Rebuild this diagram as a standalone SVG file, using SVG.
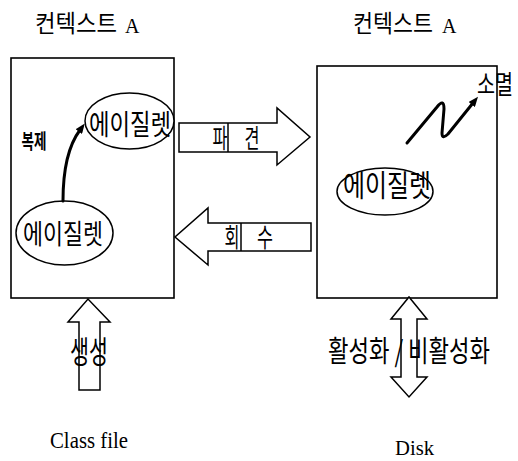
<svg xmlns="http://www.w3.org/2000/svg" width="518" height="461" viewBox="0 0 518 461">
<style>
  .box{fill:#fff;stroke:#000;stroke-width:1.6}
  .ell{fill:#fff;stroke:#000;stroke-width:1.5}
  .blk{fill:#fff;stroke:#000;stroke-width:1.5;stroke-linejoin:miter}
  .ln{fill:none;stroke:#000;stroke-width:1.5}
  .thick{fill:none;stroke:#000;stroke-width:3;stroke-linecap:round;stroke-linejoin:round}
  .k{font-family:"Noto Sans CJK KR","Noto Sans",sans-serif;fill:#000}
  .s{font-family:"Liberation Serif","Times New Roman",serif;fill:#000}
</style>
<defs>
  <marker id="ah" viewBox="0 0 10 8" refX="2" refY="4" markerWidth="10" markerHeight="8" markerUnits="userSpaceOnUse" orient="auto">
    <path d="M0,0 L10,4 L0,8 z" fill="#000"/>
  </marker>
</defs>
<rect width="518" height="461" fill="#fff"/>

<g id="context-left">
  <text class="k" x="35" y="32" font-size="24" textLength="82" lengthAdjust="spacingAndGlyphs">컨텍스트</text>
  <text class="s" x="125" y="33" font-size="20">A</text>
  <rect class="box" x="11" y="58" width="163" height="240"/>
</g>

<g id="context-right">
  <text class="k" x="353" y="32" font-size="24" textLength="80" lengthAdjust="spacingAndGlyphs">컨텍스트</text>
  <text class="s" x="442" y="33" font-size="20">A</text>
  <rect class="box" x="317" y="66" width="180" height="232"/>
</g>

<g id="aglet-left-top">
  <ellipse class="ell" cx="129.5" cy="121" rx="44.5" ry="28"/>
  <text class="k" x="130" y="135" font-size="28" text-anchor="middle" textLength="82" lengthAdjust="spacingAndGlyphs">에이질렛</text>
</g>

<g id="aglet-left-bottom">
  <ellipse class="ell" cx="64.5" cy="233" rx="48.5" ry="32"/>
  <text class="k" x="63" y="244" font-size="27" text-anchor="middle" textLength="80" lengthAdjust="spacingAndGlyphs">에이질렛</text>
</g>

<g id="aglet-right">
  <ellipse class="ell" cx="385" cy="191.5" rx="48" ry="23.5"/>
  <text class="k" x="387" y="196" font-size="30" text-anchor="middle" textLength="88" lengthAdjust="spacingAndGlyphs">에이질렛</text>
</g>

<g id="label-clone">
  <text class="k" x="34" y="149" font-size="20" font-weight="bold" text-anchor="middle" textLength="25" lengthAdjust="spacingAndGlyphs">복제</text>
</g>

<g id="label-extinct">
  <text class="k" x="477" y="94" font-size="26" textLength="36" lengthAdjust="spacingAndGlyphs">소멸</text>
</g>

<g id="class-file">
  <text class="s" x="50" y="448" font-size="23" textLength="78" lengthAdjust="spacingAndGlyphs">Class file</text>
</g>

<g id="disk">
  <text class="s" x="395" y="455" font-size="22" textLength="39" lengthAdjust="spacingAndGlyphs">Disk</text>
</g>

<g id="connectors">
  <!-- clone arrow -->
  <path class="thick" d="M63,201 C63,172 68,146 80,130" marker-end="url(#ah)"/>
  <!-- extinction zigzag -->
  <path class="thick" d="M407,143 L437,107 Q444,98 444,109 L442,133 Q442,140 448,134 L473,103" marker-end="url(#ah)"/>

  <!-- dispatch arrow -->
  <polygon class="blk" points="179,123 277,123 277,108 310,137 277,165 277,152 179,152"/>
  <line class="ln" x1="228" y1="123" x2="228" y2="152"/>
  <text class="k" x="220" y="148" font-size="26" text-anchor="middle" textLength="15" lengthAdjust="spacingAndGlyphs">파</text>
  <text class="k" x="252" y="148" font-size="26" text-anchor="middle" textLength="15" lengthAdjust="spacingAndGlyphs">견</text>

  <!-- retract arrow -->
  <polygon class="blk" points="311,223 208,223 208,208 175,237 208,265 208,251 311,251"/>
  <line class="ln" x1="241" y1="223" x2="241" y2="251"/>
  <text class="k" x="232" y="247" font-size="26" text-anchor="middle" textLength="15" lengthAdjust="spacingAndGlyphs">회</text>
  <text class="k" x="265" y="247" font-size="26" text-anchor="middle" textLength="16" lengthAdjust="spacingAndGlyphs">수</text>

  <!-- create arrow -->
  <polygon class="blk" points="79,390 79,322 68,322 88,299 110,322 100,322 100,390"/>
  <text class="k" x="89" y="363" font-size="31" text-anchor="middle" textLength="38" lengthAdjust="spacingAndGlyphs">생성</text>

  <!-- activation / deactivation arrow -->
  <polygon class="blk" points="401,319 391,319 409,297 427,319 417,319 417,377 427,377 409,397 391,377 401,377"/>
  <text class="k" x="409" y="362" font-size="29" text-anchor="middle" textLength="162" lengthAdjust="spacingAndGlyphs">활성화 / 비활성화</text>
</g>
</svg>
